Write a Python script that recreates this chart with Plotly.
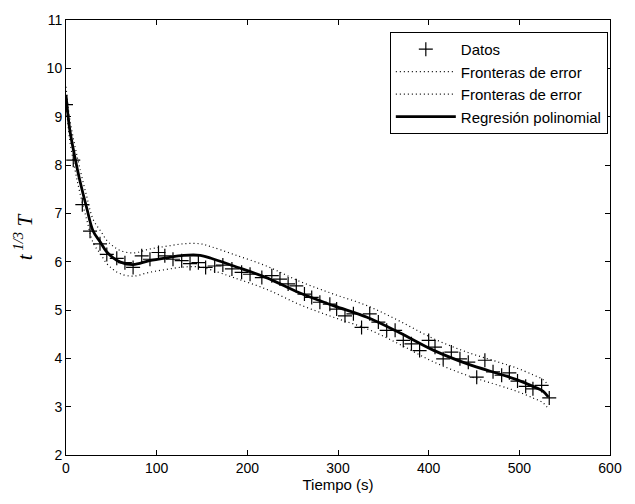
import plotly.graph_objects as go

# Observed data (Datos)
t_data = [0, 8, 18, 26.5, 37.5, 45, 56, 65, 74, 83.5, 92.6, 102, 109, 118, 127.6, 136.8,
          146, 154, 164, 173, 183, 193.7, 203, 216, 227, 236, 245, 254, 263, 271, 280,
          291, 298.5, 307.7, 317, 326, 335, 344.5, 353.7, 363, 372, 381, 390, 400, 407,
          416, 425, 434.5, 443.7, 453, 462, 471, 480.5, 489, 498, 507, 515, 524.6, 533]
y_data = [9.25, 8.10, 7.18, 6.63, 6.37, 6.15, 6.07, 5.98, 5.88, 6.12, 6.05, 6.19, 6.12, 6.05,
          6.02, 5.96, 5.98, 5.88, 5.91, 5.93, 5.85, 5.78, 5.74, 5.67, 5.71, 5.64, 5.54, 5.50,
          5.33, 5.26, 5.16, 5.12, 5.02, 4.88, 4.92, 4.64, 4.92, 4.75, 4.58, 4.58, 4.37, 4.30,
          4.16, 4.37, 4.23, 3.99, 4.13, 3.99, 3.92, 3.61, 3.96, 3.72, 3.65, 3.70, 3.53, 3.42,
          3.37, 3.44, 3.18]

# Polynomial regression curve
t_fit = [0, 4, 10, 15, 23, 30, 38, 45, 52, 60, 74, 92, 111, 130, 148, 160, 185, 221, 258,
         295, 332, 368, 405, 442, 479, 497, 515, 526, 532]
y_fit = [9.45, 8.75, 8.14, 7.70, 7.10, 6.63, 6.40, 6.20, 6.08, 5.99, 5.94, 6.02, 6.08, 6.13,
         6.13, 6.07, 5.91, 5.67, 5.35, 5.09, 4.85, 4.53, 4.17, 3.89, 3.67, 3.56, 3.42, 3.32, 3.20]

# Error bounds
y_upper = [9.62, 8.97, 8.38, 7.95, 7.34, 6.87, 6.64, 6.44, 6.32, 6.23, 6.18, 6.26, 6.32, 6.37,
           6.37, 6.31, 6.15, 5.91, 5.59, 5.33, 5.09, 4.77, 4.41, 4.13, 3.91, 3.80, 3.66, 3.56, 3.44]
y_lower = [9.28, 8.53, 7.90, 7.45, 6.86, 6.39, 6.16, 5.96, 5.84, 5.75, 5.70, 5.78, 5.84, 5.89,
           5.89, 5.83, 5.67, 5.43, 5.11, 4.85, 4.61, 4.29, 3.93, 3.65, 3.43, 3.32, 3.18, 3.08, 2.96]

x_ticks = [0, 100, 200, 300, 400, 500, 600]
y_ticks = [2, 3, 4, 5, 6, 7, 8, 9, 10, 11]

fig = go.Figure()
fig.add_trace(go.Scatter(
    x=t_data, y=y_data, mode="markers", name="Datos",
    marker=dict(symbol="cross-thin", size=10, color="black",
                line=dict(color="black", width=1.2))))
fig.add_trace(go.Scatter(
    x=t_fit, y=y_upper, mode="lines", name="Fronteras de error",
    line=dict(color="black", width=1.2, dash="1px,3px", shape="spline")))
fig.add_trace(go.Scatter(
    x=t_fit, y=y_lower, mode="lines", name="Fronteras de error",
    line=dict(color="black", width=1.2, dash="1px,3px", shape="spline")))
fig.add_trace(go.Scatter(
    x=t_fit, y=y_fit, mode="lines", name="Regresión polinomial",
    line=dict(color="black", width=2.8, shape="spline")))

axis_common = dict(showgrid=False, zeroline=False, showline=True, linecolor="black",
                   linewidth=1, mirror="ticks", ticks="inside", ticklen=5,
                   tickcolor="black", tickfont=dict(family="Liberation Sans", size=14, color="black"))

fig.update_layout(
    width=635, height=504,
    margin=dict(l=66, r=25, t=18, b=49),
    paper_bgcolor="white", plot_bgcolor="white",
    xaxis=dict(range=[0, 600], tickvals=x_ticks, ticktext=[str(v) for v in x_ticks],
               title=dict(text="Tiempo (s)", standoff=4,
                          font=dict(family="Liberation Sans", size=15, color="black")),
               **axis_common),
    yaxis=dict(range=[2, 11], tickvals=y_ticks, ticktext=[str(v) for v in y_ticks],
               title=dict(text="<i>t</i><sup> <i>1/3</i></sup> <i>T</i>", standoff=8,
                          font=dict(family="Liberation Serif", size=21, color="black")),
               **axis_common),
    legend=dict(x=0.996, y=0.9725, xanchor="right", yanchor="top",
                bgcolor="white", bordercolor="black", borderwidth=1,
                font=dict(family="Liberation Sans", size=15, color="black"),
                tracegroupgap=0, itemwidth=60),
    showlegend=True,
)

fig.write_html("out.html")
